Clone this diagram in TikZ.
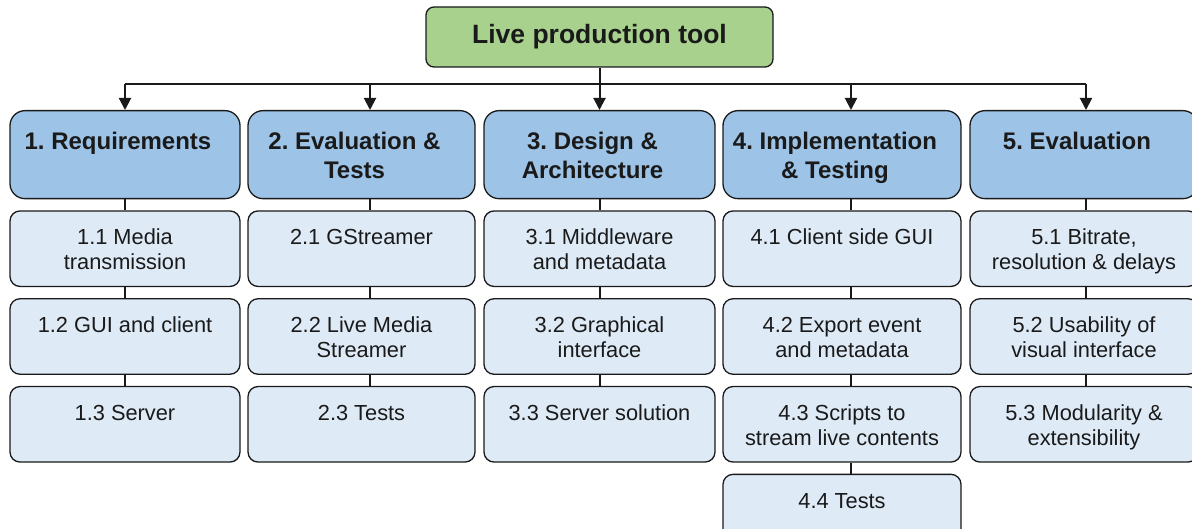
\documentclass[tikz,border=0pt]{standalone}
\usepackage{fontspec}
\setmainfont{Liberation Sans}
\usetikzlibrary{arrows.meta,positioning,calc}
\definecolor{top}{HTML}{A9D18E}
\definecolor{phase}{HTML}{9DC3E6}
\definecolor{task}{HTML}{DEEBF7}
\definecolor{ink}{HTML}{1A1A1A}
\frenchspacing
\tikzset{
  every node/.style={text=ink},
  rootbox/.style={draw=ink,fill=top,line width=1.3pt,rounded corners=8pt,minimum width=347pt,minimum height=60pt,font=\fontsize{26.5}{30}\selectfont\bfseries},
  phasebox/.style={draw=ink,fill=phase,line width=1.3pt,rounded corners=15pt,inner sep=0pt,minimum height=88pt,font=\fontsize{24}{29}\selectfont\bfseries},
  taskbox/.style={draw=ink,fill=task,line width=1.3pt,rounded corners=10pt,inner sep=0pt,minimum height=75.5pt,font=\fontsize{21.8}{25}\selectfont},
  link/.style={draw=ink,line width=2pt},
  arrow/.style={link,-{Triangle[width=12pt,length=12pt]}},
}
% top-aligned text inside the boxes
\newcommand{\phasetext}[1]{\parbox[c][88pt][t]{212pt}{\centering\rule{0pt}{39pt}#1}\hspace*{14pt}}
\newcommand{\tasktext}[1]{\parbox[c][75.5pt][t]{215pt}{\centering\rule{0pt}{34pt}#1}}

\begin{document}
\begin{tikzpicture}[x=1pt,y=-1pt,node distance=11pt]
\useasboundingbox (0,0) rectangle (1192,529);

\node[rootbox] (root) at (599.5,37) {Live production tool};
\coordinate (bus) at (0,84);

% phases
\node[phasebox,minimum width=230pt,anchor=north] (req) at (125,110) {\phasetext{1. Requirements}};
\node[phasebox,minimum width=227pt,anchor=north] (tests) at (361.5,110) {\phasetext{2. Evaluation \&\\Tests}};
\node[phasebox,minimum width=231pt,anchor=north] (design) at (599.5,110) {\phasetext{3. Design \&\\Architecture}};
\node[phasebox,minimum width=238pt,anchor=north] (impl) at (842,110) {\phasetext{4. Implementation\\\& Testing}};
\node[phasebox,minimum width=228pt,anchor=north] (eval) at (1084,110) {\phasetext{5. Evaluation}};

% tasks
\node[taskbox,minimum width=230pt,below=of req] (req1) {\tasktext{1.1 Media\\transmission}};
\node[taskbox,minimum width=230pt,below=of req1] (req2) {\tasktext{1.2 GUI and client}};
\node[taskbox,minimum width=230pt,below=of req2] (req3) {\tasktext{1.3 Server}};

\node[taskbox,minimum width=227pt,below=of tests] (tests1) {\tasktext{2.1 GStreamer}};
\node[taskbox,minimum width=227pt,below=of tests1] (tests2) {\tasktext{2.2 Live Media\\Streamer}};
\node[taskbox,minimum width=227pt,below=of tests2] (tests3) {\tasktext{2.3 Tests}};

\node[taskbox,minimum width=231pt,below=of design] (design1) {\tasktext{3.1 Middleware\\and metadata}};
\node[taskbox,minimum width=231pt,below=of design1] (design2) {\tasktext{3.2 Graphical\\interface}};
\node[taskbox,minimum width=231pt,below=of design2] (design3) {\tasktext{3.3 Server solution}};

\node[taskbox,minimum width=238pt,below=of impl] (impl1) {\tasktext{4.1 Client side GUI}};
\node[taskbox,minimum width=238pt,below=of impl1] (impl2) {\tasktext{4.2 Export event\\and metadata}};
\node[taskbox,minimum width=238pt,below=of impl2] (impl3) {\tasktext{4.3 Scripts to\\stream live contents}};
\node[taskbox,minimum width=238pt,below=of impl3] (impl4) {\tasktext{4.4 Tests}};

\node[taskbox,minimum width=228pt,below=of eval] (eval1) {\tasktext{5.1 Bitrate,\\resolution \& delays}};
\node[taskbox,minimum width=228pt,below=of eval1] (eval2) {\tasktext{5.2 Usability of\\visual interface}};
\node[taskbox,minimum width=228pt,below=of eval2] (eval3) {\tasktext{5.3 Modularity \&\\extensibility}};

% root to phases
\draw[link] (root.south) -- (root.south |- bus);
\draw[link] (req.north |- bus) -- ($(eval.north |- bus)+(2,0)$);
\foreach \p/\dx in {req/0,tests/8.5,design/0,impl/9,eval/2}
  \draw[arrow] ($(\p.north |- bus)+(\dx,0)$) -- ($(\p.north)+(\dx,0)$);

% phases to tasks
\foreach \a/\b/\dx in {req/req1/0,req1/req2/0,req2/req3/0,
    tests/tests1/8.5,tests1/tests2/8.5,tests2/tests3/8.5,
    design/design1/0,design1/design2/0,design2/design3/0,
    impl/impl1/9,impl1/impl2/9,impl2/impl3/9,impl3/impl4/9,
    eval/eval1/2,eval1/eval2/2,eval2/eval3/2}
  \draw[link] ($(\a.south)+(\dx,0)$) -- ($(\b.north)+(\dx,0)$);
\end{tikzpicture}
\end{document}
